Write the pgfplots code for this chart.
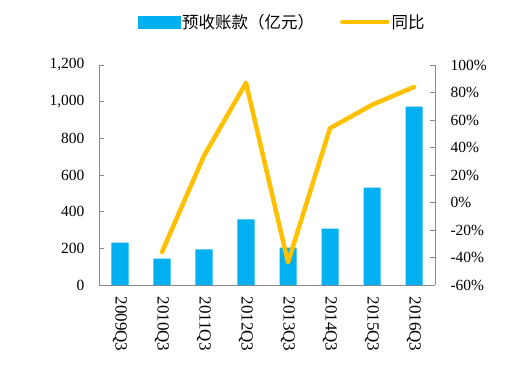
\documentclass[border=0pt]{standalone}
\usepackage{fontspec}
\setmainfont{Liberation Serif}
\newfontfamily\cjk{Noto Sans CJK SC}
\usepackage{pgfplots}
\pgfplotsset{compat=1.18}
\definecolor{barblue}{HTML}{00B0F0}
\definecolor{lineorange}{HTML}{FFC000}
\definecolor{axgray}{HTML}{898989}
\pgfplotsset{
  common/.style={
    scale only axis, width=336bp, height=220bp,
    at={(99bp,-285bp)}, anchor=south west,
    xmin=0.5, xmax=8.5,
    axis line style={axgray, line width=0.8bp},
    tick style={axgray, line width=0.8bp},
    tick align=inside,
    major tick length=5bp,
    minor tick length=5bp,
    tick label style={font=\fontsize{15.5bp}{18bp}\selectfont, text=black},
    /pgf/number format/assume math mode=true,
  }
}
\begin{document}
\begin{tikzpicture}
\useasboundingbox (0,0) rectangle (517bp,-375bp);
\begin{axis}[common,
  ymin=0, ymax=1200,
  axis x line*=bottom, axis y line*=left,
  ytick={0,200,...,1200},
  yticklabel style={/pgf/number format/1000 sep={,}, xshift=-11bp},
  xtick={1,...,8},
  xticklabels={2009Q3,2010Q3,2011Q3,2012Q3,2013Q3,2014Q3,2015Q3,2016Q3},
  xticklabel style={rotate=-90, anchor=west, xshift=8bp, yshift=0bp,
    font=\fontsize{17bp}{18bp}\selectfont},
  x tick style={draw=none},
  minor xtick={1.5,2.5,...,7.5},
  minor x tick style={axgray, line width=0.8bp},
]
\addplot[ybar, bar width=17bp, fill=barblue, draw=none] coordinates {
(1,231) (2,144) (3,195) (4,358) (5,204) (6,307) (7,531) (8,973)};
\end{axis}
\begin{axis}[common,
  ymin=-60, ymax=100,
  axis y line*=right, axis x line=none,
  ytick={-60,-40,...,100},
  yticklabel={\pgfmathprintnumber{\tick}\%},
  yticklabel style={xshift=12bp},
  legend style={at={(0.545,1.195)}, anchor=center, draw=none, fill=none,
    legend columns=2,
    font=\cjk\fontsize{16.5bp}{18bp}\selectfont,
    /tikz/every even column/.append style={column sep=24bp},
    inner sep=0pt},
]
\addlegendimage{legend image code/.code={\fill[barblue] (0bp,-6bp) rectangle (42bp,6bp);}}
\addlegendentry{预收账款（亿元）}
\addplot[lineorange, line width=4.5bp, line cap=round, line join=round,
  legend image code/.code={\draw[lineorange, line width=4.5bp] (0bp,0bp) -- (45bp,0bp);}]
  coordinates {(2,-36) (3,34) (4,87) (5,-43.5) (6,54) (7,71) (8,84)};
\addlegendentry{同比}
\end{axis}
\end{tikzpicture}
\end{document}
